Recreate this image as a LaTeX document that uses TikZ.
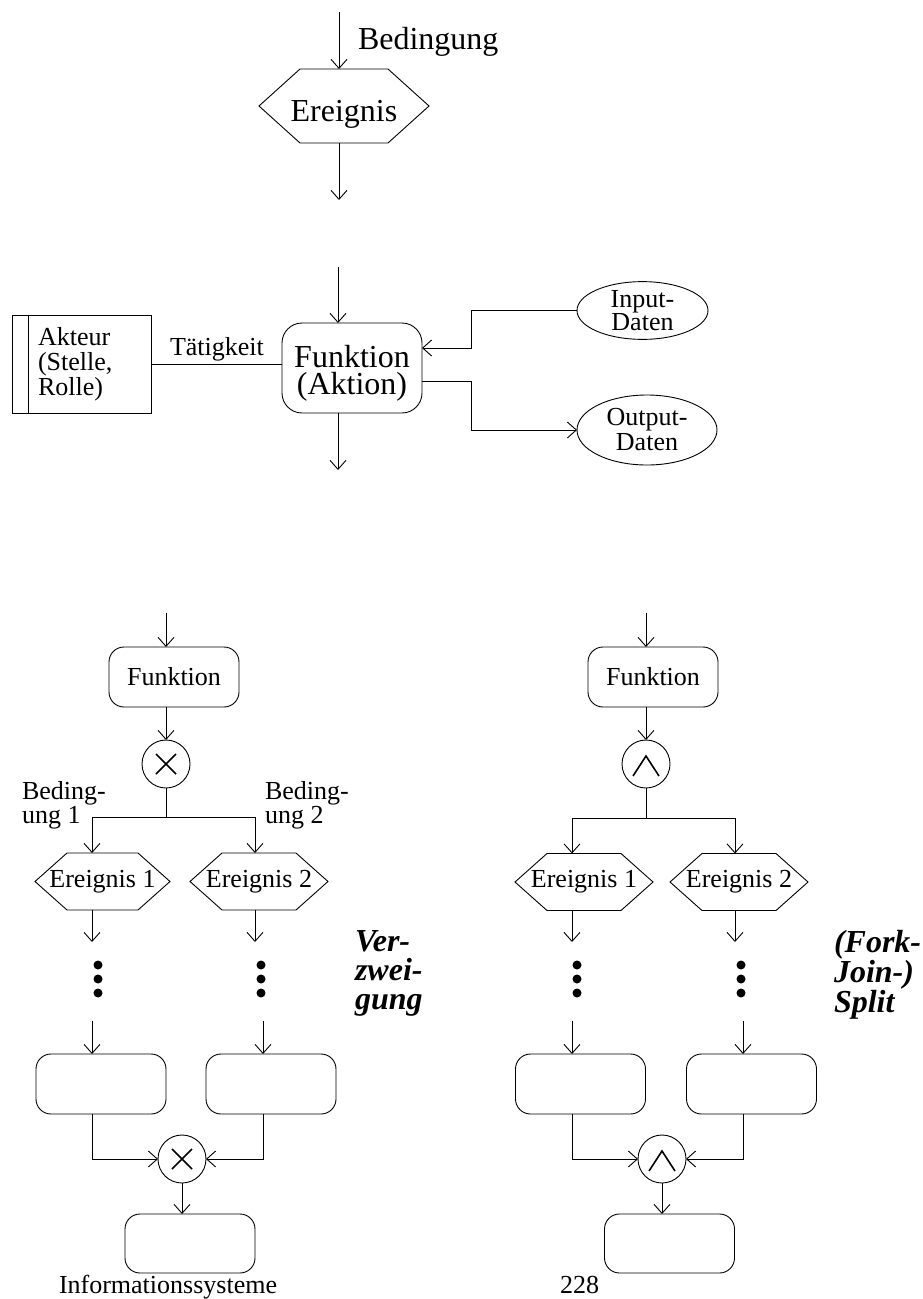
\documentclass[tikz,border=0pt]{standalone}
\usepackage{fontspec}
\setmainfont{Liberation Serif}
\usetikzlibrary{arrows.meta,shapes.geometric,calc}

% hexagonal event outline around a (text-carrying) rectangular node
\newcommand{\hexoutline}[2]{%
  \draw (#1.west) -- ([xshift=#2]#1.north west) -- ([xshift=-#2]#1.north east)
    -- (#1.east) -- ([xshift=-#2]#1.south east) -- ([xshift=#2]#1.south west) -- cycle;}

\begin{document}
\begin{tikzpicture}[x=1pt,y=-1pt,
  line width=0.9pt,
  arr/.style={-{Straight Barb[length=9pt,width=16pt]}},
  bigtxt/.style={font=\fontsize{32}{27}\selectfont},
  smalltxt/.style={font=\fontsize{26}{25}\selectfont},
  lbl/.style={inner sep=0pt, outer sep=0pt},
  hexbox/.style={inner sep=0pt, outer sep=0pt, smalltxt},
  procbox/.style={draw, rectangle, rounded corners=15pt, minimum width=130pt,
    minimum height=60pt, inner sep=0pt, outer sep=0pt, smalltxt},
  gate/.style={draw, circle, minimum size=48pt, inner sep=0pt, outer sep=0pt},
  datanode/.style={draw, ellipse, inner sep=0pt, outer sep=0pt, align=center},
  kindlbl/.style={lbl, align=left, font=\fontsize{32}{29}\selectfont\bfseries\itshape},
  sym/.style={line width=1.6pt},
]
\useasboundingbox (0,0) rectangle (923,1299);

% ---------- event ----------
\node[lbl, bigtxt, anchor=base west] (cond) at (358,49) {Bedingung};
\node[hexbox, bigtxt, minimum width=170pt, minimum height=74pt,
      text height=31pt, text depth=0pt] (ev) at (344,106) {Ereignis};
\hexoutline{ev}{41pt}
\coordinate (t0) at (339,12);
\coordinate (t1) at (339,200);
\draw[arr] (t0) -- (t0 |- ev.north);
\draw[arr] (ev.south -| t0) -- (t1);

% ---------- function with actor and data ----------
\node[draw, rectangle, rounded corners=20pt, minimum width=140pt, minimum height=90pt,
      inner sep=0pt, outer sep=0pt, align=center, bigtxt] (fk) at (352,368)
      {\rule{0pt}{32pt}Funktion\\(Aktion)};
\node[draw, rectangle, minimum width=139pt, minimum height=98pt, inner xsep=26pt,
      inner ysep=0pt, outer sep=0pt, text width=87pt, align=left, smalltxt] (akt) at (81.5,364)
      {Akteur\\(Stelle,\\Rolle)};
\draw ([xshift=16pt]akt.north west) -- ([xshift=16pt]akt.south west);
\node[lbl, smalltxt, anchor=base west] (act) at (170,355) {Tätigkeit};
\draw (akt.east) -- (akt.east -| fk.west);

\node[datanode, font=\fontsize{26}{21}\selectfont, minimum width=131pt, minimum height=55pt]
      (inp) at (642.5,310.5) {Input-\\Daten};
\node[datanode, font=\fontsize{26}{25}\selectfont, minimum width=140pt, minimum height=70pt]
      (outp) at (647,430) {Output-\\Daten};
\coordinate (ib) at (471,348);
\coordinate (ob) at (471,381);
\draw[arr] (inp.west) -| (ib) -- (ib -| fk.east);
\draw[arr] (ob -| fk.east) -- (ob) |- (outp.west);

\coordinate (m0) at (338,267);
\coordinate (m1) at (338,470);
\draw[arr] (m0) -- (m0 |- fk.north);
\draw[arr] (fk.south -| m0) -- (m1);

% ---------- XOR branch (left) ----------
\node[procbox] (f1) at (174,677) {Funktion};
\node[gate] (xl) at (166,764) {};
\draw[sym] ($(xl)+(-10,-10)$) -- ($(xl)+(10,10)$);
\draw[sym] ($(xl)+(-10,10)$) -- ($(xl)+(10,-10)$);
\coordinate (la0) at (166,613);
\draw[arr] (la0) -- (la0 |- f1.north);
\draw[arr] (f1.south -| la0) -- (xl.north);

\node[lbl, align=left, font=\fontsize{26}{21.4}\selectfont, anchor=north west] (c1l) at (22,781.5) {Beding-\\ung 1};
\node[lbl, align=left, font=\fontsize{26}{21.4}\selectfont, anchor=north west] (c2l) at (265,781.5) {Beding-\\ung 2};

\node[hexbox, minimum width=135pt, minimum height=57pt] (e1) at (102.5,881.5) {Ereignis 1};
\hexoutline{e1}{32pt}
\node[hexbox, minimum width=138pt, minimum height=57pt] (e2) at (259,881.5) {Ereignis 2};
\hexoutline{e2}{32pt}

\coordinate (bl1) at (92,817);
\coordinate (bl2) at (255,817);
\draw[arr] (xl.south) |- (bl1) -- (bl1 |- e1.north);
\draw[arr] (xl.south) |- (bl2) -- (bl2 |- e2.north);
\coordinate (al1) at (92,942);
\coordinate (al2) at (255,942);
\draw[arr] (e1.south -| al1) -- (al1);
\draw[arr] (e2.south -| al2) -- (al2);

\foreach \yy in {965,979,993} {
  \fill (98,\yy) circle (4.5pt);
  \fill (261,\yy) circle (4.5pt);
}

\node[procbox] (p1) at (101,1084) {};
\node[procbox] (p2) at (271,1084) {};
\coordinate (cl1) at (92,1021);
\coordinate (cl2) at (263,1021);
\draw[arr] (cl1) -- (cl1 |- p1.north);
\draw[arr] (cl2) -- (cl2 |- p2.north);

\node[gate] (jl) at (182,1159) {};
\draw[sym] ($(jl)+(-10,-10)$) -- ($(jl)+(10,10)$);
\draw[sym] ($(jl)+(-10,10)$) -- ($(jl)+(10,-10)$);
\draw[arr] (p1.south -| cl1) |- (jl.west);
\draw[arr] (p2.south -| cl2) |- (jl.east);
\node[procbox, minimum height=59pt] (ql) at (190,1243.5) {};
\draw[arr] (jl.south) -- (jl.south |- ql.north);

\node[kindlbl, anchor=north west] (vz) at (355,930.5) {Ver-\\zwei-\\gung};

% ---------- AND split (right) ----------
\node[procbox] (f2) at (653,677) {Funktion};
\node[gate] (xr) at (646,764) {};
\draw[sym] ($(xr)+(-13,12)$) -- ($(xr)+(0,-8)$) -- ($(xr)+(13,12)$);
\coordinate (ra0) at (646,613);
\draw[arr] (ra0) -- (ra0 |- f2.north);
\draw[arr] (f2.south -| ra0) -- (xr.north);

\node[hexbox, minimum width=138pt, minimum height=57pt] (e3) at (584,882) {Ereignis 1};
\hexoutline{e3}{32pt}
\node[hexbox, minimum width=138pt, minimum height=57pt] (e4) at (739,882) {Ereignis 2};
\hexoutline{e4}{32pt}

\coordinate (br1) at (572,818);
\coordinate (br2) at (735,818);
\draw[arr] (xr.south) |- (br1) -- (br1 |- e3.north);
\draw[arr] (xr.south) |- (br2) -- (br2 |- e4.north);
\coordinate (ar1) at (572,942);
\coordinate (ar2) at (735,942);
\draw[arr] (e3.south -| ar1) -- (ar1);
\draw[arr] (e4.south -| ar2) -- (ar2);

\foreach \yy in {965,979,993} {
  \fill (577,\yy) circle (4.5pt);
  \fill (741,\yy) circle (4.5pt);
}

\node[procbox] (p3) at (580.5,1084) {};
\node[procbox] (p4) at (751.5,1084) {};
\coordinate (cr1) at (572,1021);
\coordinate (cr2) at (743,1021);
\draw[arr] (cr1) -- (cr1 |- p3.north);
\draw[arr] (cr2) -- (cr2 |- p4.north);

\node[gate] (jr) at (662,1159) {};
\draw[sym] ($(jr)+(-13,12)$) -- ($(jr)+(0,-8)$) -- ($(jr)+(13,12)$);
\draw[arr] (p3.south -| cr1) |- (jr.west);
\draw[arr] (p4.south -| cr2) |- (jr.east);
\node[procbox, minimum height=59pt] (qr) at (669.5,1243.5) {};
\draw[arr] (jr.south) -- (jr.south |- qr.north);

\node[kindlbl, font=\fontsize{32}{30}\selectfont\bfseries\itshape, anchor=north west]
      (fj) at (834,930) {(Fork-\\Join-)\\Split};

% ---------- footer ----------
\node[lbl, smalltxt, anchor=base west] (ft1) at (59,1293) {Informationssysteme};
\node[lbl, smalltxt, anchor=base west] (ft2) at (560,1293) {228};
\end{tikzpicture}
\end{document}
